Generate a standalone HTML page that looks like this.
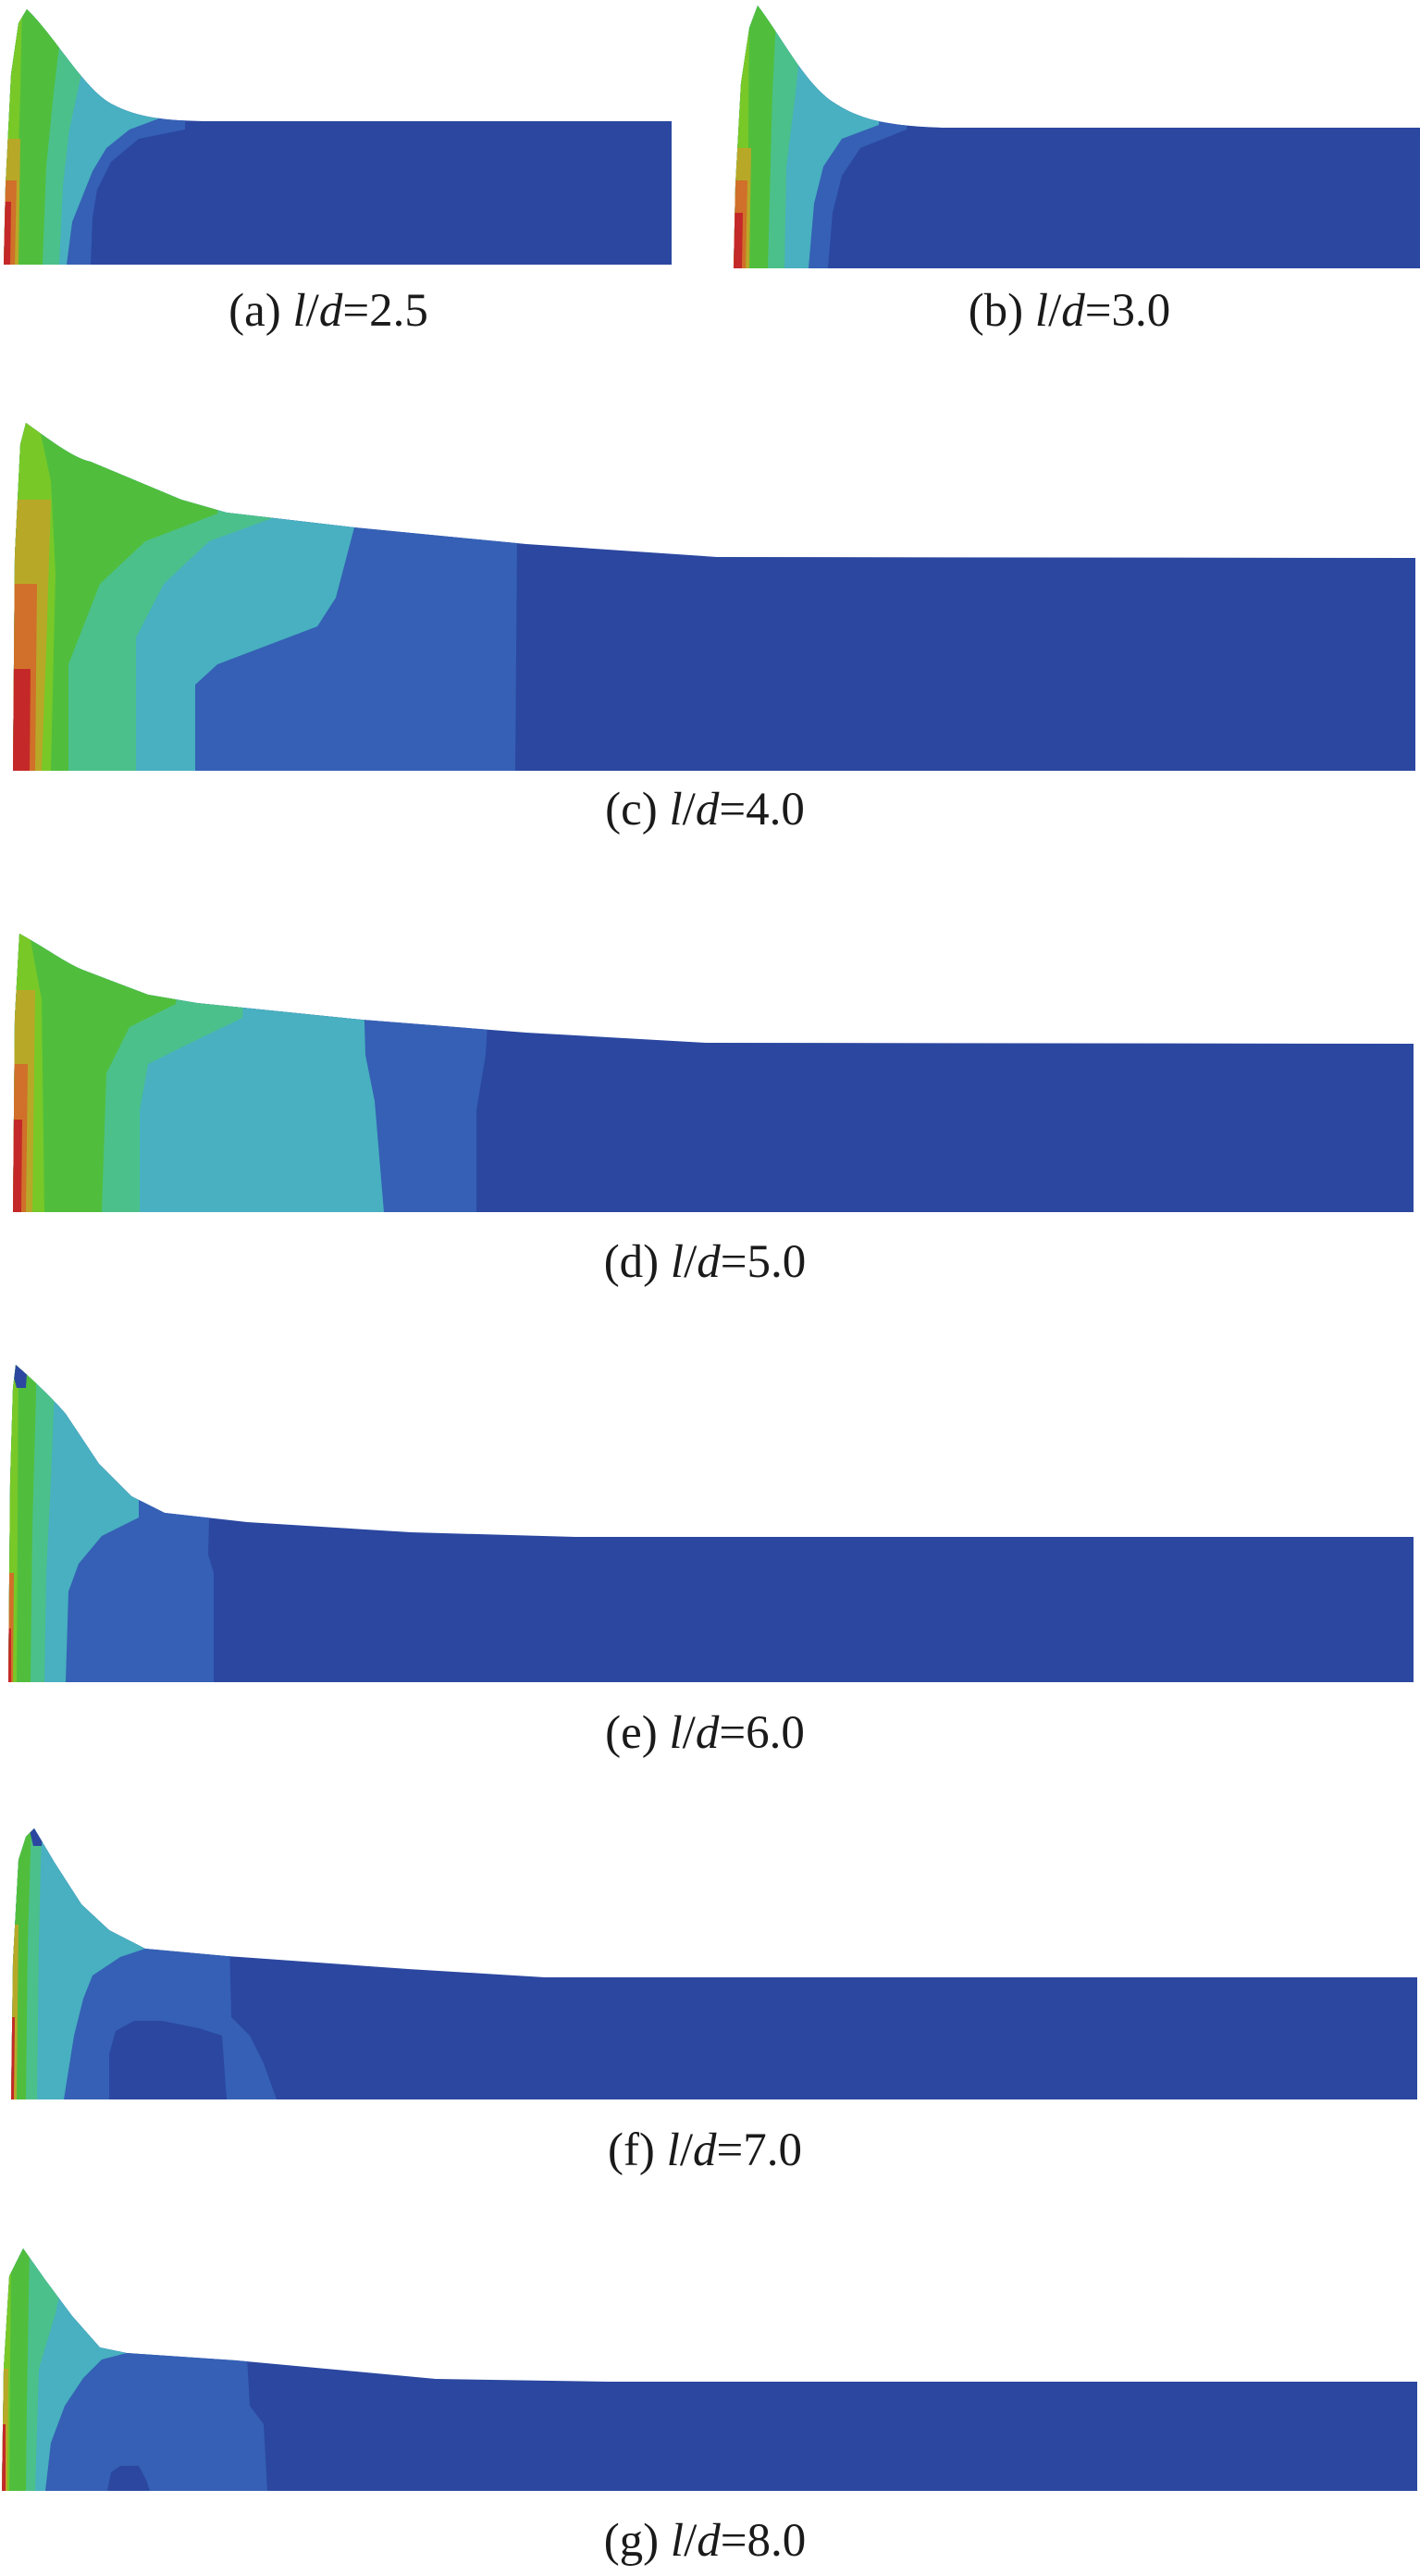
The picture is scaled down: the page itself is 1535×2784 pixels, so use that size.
<!DOCTYPE html>
<html><head><meta charset="utf-8"><style>
html,body{margin:0;padding:0;background:#fff}
svg{display:block}
text{font-family:"Liberation Serif","DejaVu Serif",serif;font-size:51px;fill:#1a1a1a}
</style></head><body>
<svg width="1535" height="2784" viewBox="0 0 1535 2784" xmlns="http://www.w3.org/2000/svg">
<defs>
<clipPath id="ca"><path d="M4,286 L6,200 L12,80 L20,25 L29,10 C60,40 90,95 120,112 C150,128 180,130 220,131 L726,131 L726,286 Z"/></clipPath>
<clipPath id="cb"><path d="M793,290 L795,200 L801,90 L810,30 L819,6 C845,40 870,90 900,110 C930,130 960,136 1020,138 L1535,138 L1535,290 Z"/></clipPath>
<clipPath id="cc"><path d="M14,833 L16,600 L22,480 L28,457 C60,480 80,495 98,499 L196,540 L245,554 L383,570 L569,588 L775,602 L1530,603 L1530,833 Z"/></clipPath>
<clipPath id="cd"><path d="M14,1310 L16,1100 L21,1009 C50,1025 70,1040 89,1048 L160,1075 L213,1084 L391,1102 L569,1116 L764,1127 L1528,1128 L1528,1310 Z"/></clipPath>
<clipPath id="ce"><path d="M9,1818 L11,1600 L14,1500 L17,1475 C40,1495 60,1515 71,1528 L107,1582 L142,1617 L178,1635 L267,1645 L444,1656 L622,1661 L1528,1661 L1528,1818 Z"/></clipPath>
<clipPath id="cf"><path d="M12,2269 L14,2120 L20,2010 L28,1985 L37,1976 L59,2013 L88,2058 L118,2086 L157,2106 L245,2114 L441,2128 L540,2134 L589,2137 L1532,2137 L1532,2269 Z"/></clipPath>
<clipPath id="cg"><path d="M2,2692 L4,2560 L10,2460 L25,2430 L49,2464 L78,2503 L108,2537 L137,2543 L255,2551 L471,2571 L657,2574 L1532,2574 L1532,2692 Z"/></clipPath>
</defs>

<!-- (a) -->
<g clip-path="url(#ca)">
<rect x="0" y="0" width="730" height="290" fill="#2b47a0"/>
<polygon points="0,0 205,0 200,140 150,150 120,175 105,205 100,235 98,286 0,286" fill="#3560b5"/>
<polygon points="0,0 185,0 180,125 140,140 115,160 100,185 90,210 78,240 72,286 0,286" fill="#48b0c0"/>
<polygon points="0,0 105,0 90,70 75,140 68,200 64,286 0,286" fill="#4cc08a"/>
<polygon points="0,0 70,0 58,100 50,180 46,286 0,286" fill="#50be3c"/>
<polygon points="0,0 24,0 22,100 20,160 18,286 0,286" fill="#78c828"/>
<polygon points="0,150 22,150 20,286 0,286" fill="#b8a828"/>
<polygon points="0,195 18,195 16,286 0,286" fill="#d0702a"/>
<polygon points="0,218 12,218 11,286 0,286" fill="#c42828"/>
</g>
<text x="355" y="352" text-anchor="middle">(a) <tspan font-style="italic">l</tspan>/<tspan font-style="italic">d</tspan>=2.5</text>

<!-- (b) -->
<g clip-path="url(#cb)">
<rect x="790" y="0" width="750" height="295" fill="#2b47a0"/>
<polygon points="790,0 985,0 980,140 930,160 910,190 900,230 895,290 790,290" fill="#3560b5"/>
<polygon points="790,0 960,0 950,135 910,150 890,180 880,220 874,290 790,290" fill="#48b0c0"/>
<polygon points="790,0 870,0 860,100 850,180 848,290 790,290" fill="#4cc08a"/>
<polygon points="790,0 840,0 835,100 830,290 790,290" fill="#50be3c"/>
<polygon points="790,0 810,0 808,290 790,290" fill="#78c828"/>
<polygon points="790,160 812,160 810,290 790,290" fill="#b8a828"/>
<polygon points="790,195 808,195 806,290 790,290" fill="#d0702a"/>
<polygon points="790,230 803,230 802,290 790,290" fill="#c42828"/>
</g>
<text x="1156" y="352" text-anchor="middle">(b) <tspan font-style="italic">l</tspan>/<tspan font-style="italic">d</tspan>=3.0</text>

<!-- (c) -->
<g clip-path="url(#cc)">
<rect x="10" y="450" width="1525" height="390" fill="#2b47a0"/>
<polygon points="10,450 560,450 557,833 10,833" fill="#3560b5"/>
<polygon points="10,450 383,450 383,570 363,646 343,677 235,718 211,740 211,833 10,833" fill="#48b0c0"/>
<polygon points="10,450 294,450 294,560 226,585 177,631 147,689 147,833 10,833" fill="#4cc08a"/>
<polygon points="10,450 235,450 235,555 157,585 108,631 74,718 74,833 10,833" fill="#50be3c"/>
<polygon points="10,450 40,450 55,520 60,620 55,833 10,833" fill="#78c828"/>
<polygon points="10,540 55,540 50,700 45,833 10,833" fill="#b8a828"/>
<polygon points="10,631 40,631 38,833 10,833" fill="#d0702a"/>
<polygon points="10,723 33,723 32,833 10,833" fill="#c42828"/>
</g>
<text x="762" y="891" text-anchor="middle">(c) <tspan font-style="italic">l</tspan>/<tspan font-style="italic">d</tspan>=4.0</text>

<!-- (d) -->
<g clip-path="url(#cd)">
<rect x="10" y="1000" width="1525" height="315" fill="#2b47a0"/>
<polygon points="10,1000 533,1000 525,1140 515,1200 515,1310 10,1310" fill="#3560b5"/>
<polygon points="10,1000 391,1000 395,1140 405,1190 415,1310 10,1310" fill="#48b0c0"/>
<polygon points="10,1000 267,1000 262,1100 200,1130 160,1150 151,1200 151,1310 10,1310" fill="#4cc08a"/>
<polygon points="10,1000 200,1000 190,1085 140,1110 115,1160 110,1310 10,1310" fill="#50be3c"/>
<polygon points="10,1000 30,1000 45,1080 48,1310 10,1310" fill="#78c828"/>
<polygon points="10,1070 38,1070 35,1310 10,1310" fill="#b8a828"/>
<polygon points="10,1150 30,1150 28,1310 10,1310" fill="#d0702a"/>
<polygon points="10,1210 24,1210 23,1310 10,1310" fill="#c42828"/>
</g>
<text x="762" y="1380" text-anchor="middle">(d) <tspan font-style="italic">l</tspan>/<tspan font-style="italic">d</tspan>=5.0</text>

<!-- (e) -->
<g clip-path="url(#ce)">
<rect x="5" y="1470" width="1530" height="350" fill="#2b47a0"/>
<polygon points="5,1470 231,1470 225,1680 231,1700 231,1818 5,1818" fill="#3560b5"/>
<polygon points="5,1470 150,1470 150,1640 110,1660 85,1690 74,1720 71,1818 5,1818" fill="#48b0c0"/>
<polygon points="5,1470 60,1470 55,1600 50,1700 48,1818 5,1818" fill="#4cc08a"/>
<polygon points="5,1470 40,1470 35,1650 33,1818 5,1818" fill="#50be3c"/>
<polygon points="5,1470 20,1470 18,1818 5,1818" fill="#78c828"/>
<polygon points="5,1700 15,1700 14,1818 5,1818" fill="#d0702a"/>
<polygon points="5,1760 12,1760 12,1818 5,1818" fill="#c42828"/>
<polygon points="10,1470 30,1470 28,1500 18,1500" fill="#2b47a0"/>
</g>
<text x="762" y="1889" text-anchor="middle">(e) <tspan font-style="italic">l</tspan>/<tspan font-style="italic">d</tspan>=6.0</text>

<!-- (f) -->
<g clip-path="url(#cf)">
<rect x="8" y="1970" width="1530" height="305" fill="#2b47a0"/>
<polygon points="8,1970 245,1970 250,2180 270,2200 285,2230 299,2269 8,2269" fill="#3560b5"/>
<path d="M118,2269 L118,2220 L125,2195 L145,2184 L175,2184 L215,2192 L240,2200 L245,2269 Z" fill="#2b47a0"/>
<polygon points="8,1970 157,1970 157,2106 130,2115 100,2135 90,2160 80,2200 69,2269 8,2269" fill="#48b0c0"/>
<polygon points="8,1970 45,1970 42,2100 40,2269 8,2269" fill="#4cc08a"/>
<polygon points="8,1970 34,1970 30,2100 28,2269 8,2269" fill="#50be3c"/>
<polygon points="8,2080 20,2080 18,2269 8,2269" fill="#b8a828"/>
<polygon points="8,2180 16,2180 15,2269 8,2269" fill="#c42828"/>
<polygon points="30,1970 48,1970 45,1995 36,1995" fill="#2b47a0"/>
</g>
<text x="762" y="2340" text-anchor="middle">(f) <tspan font-style="italic">l</tspan>/<tspan font-style="italic">d</tspan>=7.0</text>

<!-- (g) -->
<g clip-path="url(#cg)">
<rect x="0" y="2425" width="1535" height="270" fill="#2b47a0"/>
<polygon points="0,2425 260,2425 270,2600 285,2620 289,2692 0,2692" fill="#3560b5"/>
<path d="M116,2692 L120,2672 L130,2665 L150,2665 L158,2680 L162,2692 Z" fill="#2b47a0"/>
<polygon points="0,2425 137,2425 137,2543 110,2550 90,2570 70,2600 55,2640 49,2692 0,2692" fill="#48b0c0"/>
<polygon points="0,2425 75,2425 60,2500 42,2560 38,2692 0,2692" fill="#4cc08a"/>
<polygon points="0,2425 32,2425 29,2600 28,2692 0,2692" fill="#50be3c"/>
<polygon points="0,2425 12,2425 10,2692 0,2692" fill="#78c828"/>
<polygon points="0,2560 9,2560 8,2692 0,2692" fill="#b8a828"/>
<polygon points="0,2620 6,2620 6,2692 0,2692" fill="#c42828"/>
</g>
<text x="762" y="2762" text-anchor="middle">(g) <tspan font-style="italic">l</tspan>/<tspan font-style="italic">d</tspan>=8.0</text>
</svg>
</body></html>
